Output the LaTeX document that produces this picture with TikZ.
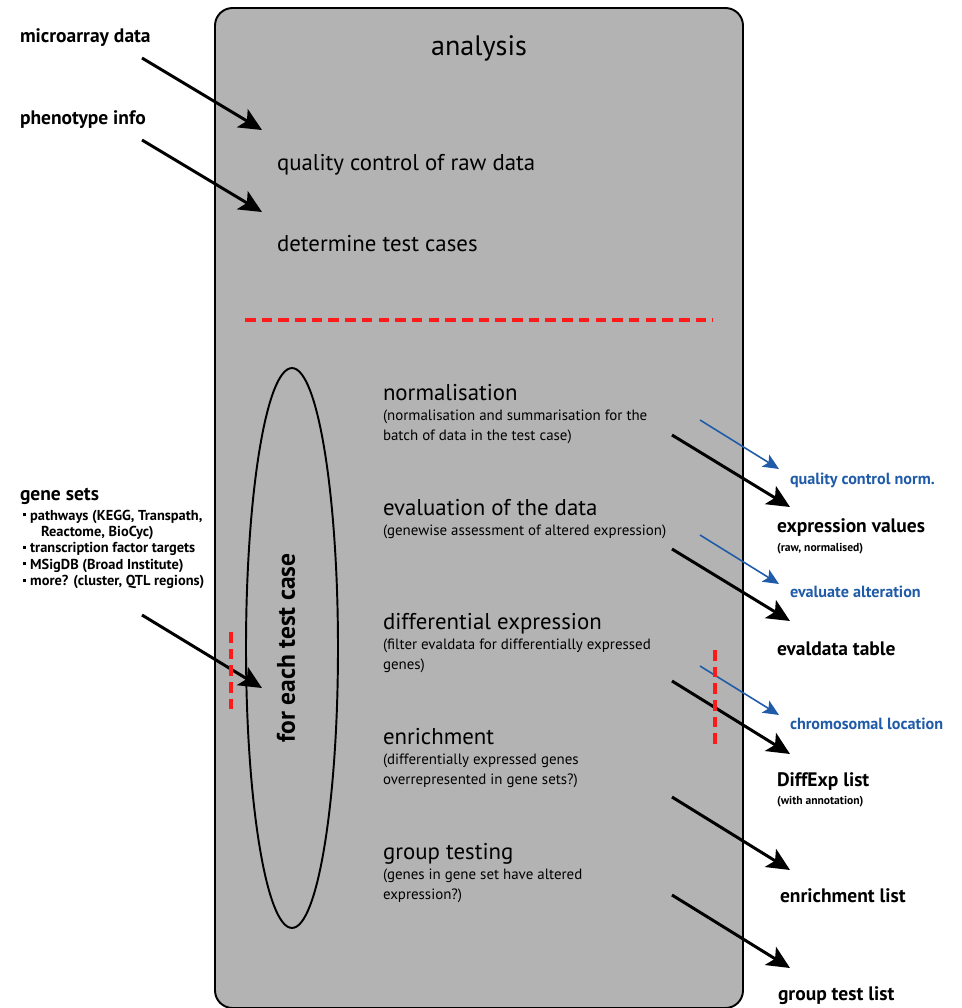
\documentclass[tikz,border=0pt]{standalone}
\usepackage{fontspec}
\setmainfont{PT Sans}
\usetikzlibrary{arrows.meta,shapes.geometric}
\definecolor{BoxGrey}{HTML}{B3B3B3}
\definecolor{NoteBlue}{HTML}{1F5BA8}
\definecolor{CutRed}{HTML}{FF1A1A}
\newcommand{\sqbullet}{\hspace{1.5pt}\raisebox{2.2pt}{\rule{1.8pt}{1.8pt}}\hspace{2.5pt}}

\begin{document}
\begin{tikzpicture}[x=0.02cm, y=-0.02cm,
  every node/.style={inner sep=0pt, outer sep=0pt},
  bigarrow/.style={line width=1.7pt, -{Stealth[length=13pt,width=12pt,inset=3pt]}},
  notearrow/.style={NoteBlue, line width=0.9pt, -{Stealth[length=9pt,width=8pt,inset=2pt]}},
  cutline/.style={CutRed, line width=2.3pt, dash pattern=on 6pt off 3.5pt},
  steptitle/.style={anchor=base west, font=\fontsize{13}{15}\selectfont},
  stepnote/.style={anchor=north west, font=\fontsize{8.5}{11.3}\selectfont, align=left},
  outlabel/.style={anchor=base west, font=\fontsize{11.1}{13}\selectfont\bfseries},
  outnote/.style={anchor=base west, font=\fontsize{6.6}{7}\selectfont\bfseries},
  bluelabel/.style={anchor=base west, text=NoteBlue, font=\fontsize{9.2}{11}\selectfont\bfseries}]
  \useasboundingbox (0,0) rectangle (962,1008);

  % analysis box
  \draw[fill=BoxGrey, line width=1.1pt, rounded corners=10pt] (215,8) rectangle (743,1008);
  \node[anchor=base, font=\fontsize{16}{18}\selectfont] (title) at (479,55) {analysis};

  % inputs
  \node[outlabel] (micro) at (20,42) {microarray data};
  \node[outlabel] (pheno) at (20,124) {phenotype info};
  \node[steptitle] (qc) at (277,170) {quality control of raw data};
  \node[steptitle] (cases) at (277,251) {determine test cases};
  \coordinate (micro-out) at (142,58);  \coordinate (qc-in) at (262,130);
  \coordinate (pheno-out) at (142,140); \coordinate (cases-in) at (262,212);
  \draw[bigarrow] (micro-out) -- (qc-in);
  \draw[bigarrow] (pheno-out) -- (cases-in);

  \coordinate (cut-a) at (245,320); \coordinate (cut-b) at (713,320);
  \draw[cutline] (cut-a) -- (cut-b);

  % loop over test cases
  \coordinate (loop) at (292,648);
  \draw[line width=1.1pt] (loop) ellipse [x radius=0.92cm, y radius=5.6cm];
  \node[rotate=90, font=\fontsize{14.5}{16}\selectfont\bfseries] (loop-text) at (286,648) {for each test case};

  % gene sets
  \node[outlabel] (genes) at (20,500) {gene sets};
  \node[anchor=north west, align=left, font=\fontsize{8.2}{9.3}\selectfont\bfseries] (gene-list) at (20,510)
    {\sqbullet pathways (KEGG, Transpath,\\
     \hspace{12pt}Reactome, BioCyc)\\
     \sqbullet transcription factor targets\\
     \sqbullet MSigDB (Broad Institute)\\
     \sqbullet more? (cluster, QTL regions)};
  \coordinate (genes-out) at (142,615); \coordinate (loop-in) at (262,688);
  \draw[bigarrow] (genes-out) -- (loop-in);
  \coordinate (lcut-a) at (231,632); \coordinate (lcut-b) at (231,715);
  \draw[cutline] (lcut-a) -- (lcut-b);

  % steps inside the loop
  \foreach \n/\t/\d/\y in {
    norm/normalisation/{(normalisation and summarisation for the\\batch of data in the test case)}/400,
    eval/{evaluation of the data}/{(genewise assessment of altered expression)}/515,
    diff/{differential expression}/{(filter evaldata for differentially expressed\\genes)}/629,
    enr/enrichment/{(differentially expressed genes\\overrepresented in gene sets?)}/744,
    grp/{group testing}/{(genes in gene set have altered\\expression?)}/859%
  }{
    \node[steptitle] (\n) at (383,\y) {\t};
    \node[stepnote] (\n-note) at (383,\y+10) {\d};
  }

  % outputs
  \foreach \n/\ys/\ye in {norm/435/507, eval/549/621, diff/681/754, enr/797/870, grp/895/968}{
    \coordinate (\n-out) at (672,\ys);
    \coordinate (\n-res) at (790,\ye);
    \draw[bigarrow] (\n-out) -- (\n-res);
  }
  \foreach \n/\ys/\ye in {norm/420/469, eval/535/584, diff/666/715}{
    \coordinate (\n-qout) at (700,\ys);
    \coordinate (\n-qres) at (779,\ye);
    \draw[notearrow] (\n-qout) -- (\n-qres);
  }
  \node[bluelabel] (qnorm) at (790,484) {quality control norm.};
  \node[bluelabel] (qeval) at (790,597) {evaluate alteration};
  \node[bluelabel] (qchrom) at (790,729) {chromosomal location};

  \node[outlabel] (exprval) at (777,532) {expression values};
  \node[outnote] (exprval-note) at (777,551) {(raw, normalised)};
  \node[outlabel] (evaltab) at (777,655) {evaldata table};
  \node[outlabel] (difflist) at (777,786) {DiffExp list};
  \node[outnote] (difflist-note) at (777,804) {(with annotation)};
  \node[outlabel] (enrlist) at (780,902) {enrichment list};
  \node[outlabel] (grplist) at (778,1000) {group test list};

  \coordinate (rcut-a) at (715,650); \coordinate (rcut-b) at (715,750);
  \draw[cutline] (rcut-a) -- (rcut-b);
\end{tikzpicture}
\end{document}
